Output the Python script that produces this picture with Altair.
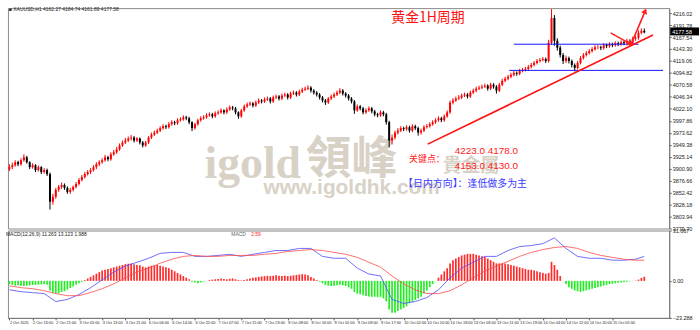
import json
import altair as alt
import pandas as pd

# ---------------- data ----------------
first_open = 3900
closes = [
    3904, 3908, 3914, 3910, 3918, 3924, 3914, 3904, 3908, 3898,
    3904, 3894, 3898, 3890, 3834, 3844, 3858, 3864, 3868, 3862,
    3854, 3858, 3864, 3870, 3878, 3884, 3890, 3894, 3898, 3904,
    3910, 3914, 3918, 3924, 3920, 3930, 3934, 3940, 3948, 3954,
    3958, 3962, 3964, 3958, 3962, 3954, 3948, 3954, 3964, 3970,
    3974, 3978, 3983, 3987, 3985, 3991, 3995, 3993, 3999, 4001,
    4005, 4003, 3995, 3983, 3991, 3999, 4003, 4005, 4009, 4011,
    4007, 4013, 4015, 4019, 4015, 4021, 4025, 4023, 4015, 4007,
    4019, 4027, 4031, 4033, 4029, 4035, 4039, 4037, 4041, 4043,
    4037, 4045, 4047, 4043, 4049, 4051, 4045, 4053, 4055, 4051,
    4057, 4061, 4063, 4065, 4059, 4055, 4051, 4045, 4039, 4035,
    4043, 4047, 4051, 4055, 4059, 4053, 4049, 4043, 4037, 4019,
    4027, 4023, 4015, 4019, 4023, 4017, 4011, 4009, 4015, 4011,
    3995, 3958, 3964, 3974, 3978, 3983, 3981, 3985, 3978, 3987,
    3983, 3974, 3978, 3985, 3987, 3991, 3995, 3999, 4003, 3999,
    4007, 4015, 4035, 4039, 4043, 4045, 4049, 4051, 4047, 4055,
    4059, 4063, 4065, 4067, 4069, 4063, 4071, 4067, 4059, 4071,
    4079, 4083, 4087, 4091, 4095, 4093, 4099, 4101, 4103, 4107,
    4111, 4115, 4119, 4121, 4123, 4119, 4156, 4206, 4160, 4146,
    4131, 4119, 4125, 4119, 4111, 4105, 4115, 4125, 4131, 4135,
    4139, 4143, 4147, 4147, 4145, 4151, 4149, 4153, 4151, 4155,
    4153, 4157, 4155, 4160, 4155, 4164, 4166, 4176, 4180, 4177,
]
highs = [
    3910, 3913, 3918, 3917, 3922, 3930, 3927, 3916, 3912, 3910,
    3907, 3906, 3902, 3901, 3893, 3850, 3862, 3868, 3873, 3871,
    3865, 3862, 3867, 3874, 3882, 3888, 3894, 3898, 3902, 3908,
    3914, 3918, 3922, 3929, 3927, 3934, 3939, 3945, 3952, 3958,
    3963, 3966, 3969, 3967, 3965, 3964, 3957, 3957, 3967, 3974,
    3978, 3982, 3987, 3991, 3990, 3995, 3999, 3998, 4003, 4005,
    4009, 4008, 4006, 3997, 3994, 4002, 4007, 4009, 4013, 4015,
    4014, 4017, 4019, 4023, 4021, 4025, 4029, 4028, 4026, 4017,
    4022, 4031, 4035, 4037, 4036, 4039, 4043, 4042, 4045, 4047,
    4046, 4049, 4051, 4050, 4053, 4055, 4054, 4057, 4059, 4058,
    4061, 4065, 4067, 4070, 4068, 4062, 4058, 4054, 4048, 4042,
    4046, 4051, 4055, 4059, 4064, 4062, 4056, 4052, 4046, 4040,
    4031, 4030, 4026, 4023, 4027, 4026, 4020, 4014, 4019, 4018,
    4014, 3998, 3970, 3978, 3983, 3987, 3986, 3989, 3988, 3991,
    3990, 3986, 3982, 3989, 3991, 3995, 3999, 4003, 4007, 4006,
    4011, 4019, 4039, 4044, 4047, 4050, 4053, 4055, 4054, 4059,
    4063, 4067, 4069, 4071, 4073, 4072, 4075, 4074, 4070, 4075,
    4083, 4087, 4091, 4095, 4099, 4098, 4103, 4105, 4107, 4111,
    4115, 4119, 4123, 4125, 4127, 4126, 4162, 4224, 4212, 4165,
    4150, 4135, 4130, 4128, 4122, 4114, 4119, 4129, 4135, 4139,
    4143, 4147, 4151, 4151, 4150, 4155, 4154, 4157, 4156, 4159,
    4158, 4161, 4160, 4164, 4163, 4168, 4170, 4181, 4185, 4185,
]
lows = [
    3896, 3900, 3905, 3906, 3907, 3915, 3911, 3900, 3901, 3894,
    3895, 3890, 3891, 3886, 3818, 3828, 3840, 3854, 3860, 3858,
    3850, 3850, 3855, 3861, 3867, 3875, 3881, 3887, 3890, 3895,
    3900, 3906, 3911, 3915, 3916, 3917, 3927, 3931, 3937, 3945,
    3951, 3955, 3958, 3954, 3955, 3950, 3944, 3945, 3951, 3961,
    3967, 3971, 3975, 3980, 3981, 3982, 3988, 3989, 3990, 3996,
    3998, 3999, 3991, 3977, 3980, 3988, 3996, 4000, 4002, 4006,
    4003, 4004, 4010, 4012, 4011, 4012, 4018, 4019, 4011, 4002,
    4004, 4016, 4024, 4028, 4025, 4026, 4032, 4033, 4034, 4038,
    4033, 4034, 4042, 4039, 4040, 4046, 4041, 4042, 4050, 4047,
    4048, 4054, 4058, 4060, 4055, 4051, 4047, 4041, 4035, 4030,
    4032, 4040, 4044, 4048, 4052, 4049, 4045, 4039, 4033, 4012,
    4016, 4019, 4011, 4012, 4016, 4013, 4007, 4005, 4006, 4007,
    3990, 3944, 3950, 3960, 3970, 3975, 3977, 3978, 3974, 3975,
    3979, 3968, 3970, 3975, 3982, 3984, 3988, 3992, 3996, 3995,
    3996, 4004, 4012, 4031, 4036, 4040, 4042, 4046, 4043, 4044,
    4052, 4056, 4060, 4062, 4064, 4059, 4060, 4063, 4053, 4056,
    4068, 4076, 4080, 4084, 4088, 4089, 4090, 4096, 4098, 4100,
    4104, 4108, 4112, 4116, 4118, 4115, 4116, 4152, 4150, 4140,
    4126, 4113, 4115, 4114, 4106, 4098, 4102, 4112, 4122, 4128,
    4132, 4136, 4140, 4143, 4141, 4142, 4145, 4146, 4147, 4148,
    4149, 4150, 4151, 4152, 4151, 4152, 4160, 4162, 4173, 4175,
]
hist = [
    -2, -2.5, -3, -2.8, -3, -3.2, -3, -2.8, -2.6, -2.5,
    -2.4, -2.2, -2.0, -2.5, -6, -7.5, -8, -7.8, -7, -6.5,
    -5.5, -4.5, -3.5, -2.5, -1.5, -0.5, 0.5, 1.5, 2.5, 3.5,
    4.5, 5.5, 6.5, 7, 7.5, 8, 8.5, 9, 9.5, 10,
    10.5, 10.8, 11, 10.5, 10, 9.8, 9, 8.5, 9, 9.5,
    9.8, 10, 9.5, 9, 8.5, 8, 7, 6, 5, 4,
    3, 2, 1, -0.5, -1, -1.5, -1, -0.5, 0, 0.5,
    0.8, 1, 1.2, 1.5, 1.2, 1, 1.3, 1.5, 1, 0.5,
    0.3, 0.6, 1, 1.5, 2, 2.2, 2.5, 2.8, 3, 3.2,
    3, 3.2, 3.5, 3.2, 3, 3.3, 3, 3.2, 3.5, 3.8,
    4, 4.2, 4, 3.5, 2.5, 1.5, 0.5, -0.5, -1.5, -2.5,
    -3, -3.2, -3, -2.8, -2.5, -2.8, -3.2, -4, -5, -7,
    -8, -8.5, -9, -9.5, -9.8, -10, -10, -10.2, -10, -11,
    -13, -18, -20, -20, -19, -18, -17, -16, -14, -13,
    -12, -11, -10, -8, -6, -4, -2, 0, 2, 4,
    6, 8, 11, 13, 14, 15, 16, 16.5, 17, 17,
    17, 16.5, 16, 15.5, 15, 14, 13, 12, 11, 11,
    11, 11, 10.5, 10, 9.5, 9, 8.5, 8, 7.5, 7,
    7, 6.5, 6, 5.5, 5, 4.5, 5, 12, 10, 7,
    3, 0, -2, -4, -5, -6, -6.5, -7, -6.5, -6,
    -5.5, -5, -4.5, -4, -3.5, -3, -2.5, -2, -1.8, -1.5,
    -1.2, -1, -0.8, -0.5, -0.3, -0.2, 0.2, 0.8, 1.8, 2.6,
]
line_idx = [0, 4, 8, 12, 16, 20, 24, 28, 32, 36, 40, 44, 48, 52, 56, 60, 64, 68,
            72, 76, 80, 84, 88, 92, 96, 100, 104, 108, 112, 116, 120, 124, 128,
            132, 136, 140, 144, 148, 152, 156, 160, 164, 168, 172, 176, 180, 184,
            188, 192, 196, 200, 204, 208, 212, 216, 219]
dif = [-5.6, -6.8, -7.4, -8, -13, -11.7, -8.6, -4.3, 0.6, 5.6,
       9.3, 11.7, 14.2, 17.3, 17.9, 17.9, 15.4, 15.4, 16, 16.7,
       15.4, 16.7, 17.9, 19.1, 19.1, 20.4, 20.4, 15.4, 14.2, 14.2,
       8, 4.3, 3.1, -11.7, -14.2, -13, -10.5, -5.6, 1.9, 8,
       11.7, 15.4, 15.4, 19.1, 21.6, 22.2, 23.4, 27, 20.4, 15.4,
       14.2, 14.2, 13, 13, 13.6, 15.4]
dea = [-3.1, -4.3, -4.9, -6.2, -8, -9.3, -9.3, -7.4, -4.9, -1.9,
       1.9, 5.6, 8, 11.1, 13.6, 15.4, 16, 15.4, 15.4, 16,
       16, 16, 16.7, 17.3, 18.5, 19.1, 19.7, 19.1, 17.9, 16.7,
       14.8, 11.7, 8.6, 3.1, -1.9, -5.6, -8, -8, -6.2, -2.5,
       1.9, 6.2, 9.3, 12.3, 15.4, 17.9, 19.7, 21, 21.6, 20.4,
       17.9, 16, 14.8, 13.6, 13, 13]

price_ticks = [3779.70, 3803.94, 3828.18, 3852.42, 3876.66, 3900.90, 3925.14,
               3949.38, 3973.62, 3997.86, 4022.10, 4046.34, 4070.58, 4094.82,
               4119.06, 4143.30, 4167.54, 4191.78, 4216.02]
macd_ticks = [31.667, 0.0, -23.288]
time_tick_idx = [0, 8, 16, 24, 32, 40, 48, 56, 64, 72, 80, 88, 96, 104, 112,
                 120, 128, 136, 144, 152, 160, 168, 176, 184, 192, 200, 208]
time_labels = ["2 Oct 2025", "2 Oct 13:00", "2 Oct 21:00", "3 Oct 05:00",
               "3 Oct 13:00", "3 Oct 21:00", "6 Oct 06:00", "6 Oct 14:00",
               "6 Oct 22:00", "7 Oct 07:00", "7 Oct 15:00", "7 Oct 23:00",
               "8 Oct 08:00", "8 Oct 16:00", "9 Oct 01:00", "9 Oct 09:00",
               "9 Oct 17:00", "10 Oct 02:00", "10 Oct 10:00", "10 Oct 18:00",
               "13 Oct 03:00", "13 Oct 11:00", "13 Oct 19:00", "14 Oct 04:00",
               "14 Oct 12:00", "14 Oct 20:00", "15 Oct 05:00"]

level_prices = [4153, 4100]
level_x1 = [174, 172.4]
level_x2 = [217, 225.5]
trend = {"x1": 144.3, "y1": 3950.6, "x2": 222.0, "y2": 4171.8}
arrow_x1 = [207.4, 214.5]
arrow_y1 = [4175.9, 4153.7]
arrow_x2 = [214.2, 219.3]
arrow_y2 = [4153.7, 4220.1]
arrow_angle = [119, 23]

# ---------------- chart ----------------
W, H1, H2 = 666, 222, 88
TOP2 = 5 + H1 + 2
X_DOM = [-0.5, 227.6]
Y_DOM = [3779.7, 4226.1]
M_DOM = [-23.288, 31.667]
UP, DOWN = "#ff0000", "#000000"
AX = dict(labelFont="Liberation Sans", labelColor="#222",
          tickSize=2, tickColor="#555", domainColor="#777", labelPadding=1,
          grid=False, title=None, labelFlush=False, labelOverlap=False)

opens = [first_open] + closes[:-1]
df = pd.DataFrame({"i": list(range(len(closes))), "o": opens, "c": closes,
                   "h": highs, "l": lows})
xs = alt.Scale(domain=X_DOM, nice=False, zero=False)
ys = alt.Scale(domain=Y_DOM, nice=False, zero=False)
ms = alt.Scale(domain=M_DOM, nice=False, zero=False)
ccol = alt.condition("datum.c >= datum.o", alt.value(UP), alt.value(DOWN))

yaxis = alt.Axis(orient="right", values=price_ticks, format=".2f", labelFontSize=5.5, **AX)
xaxis = alt.Axis(values=time_tick_idx,
                 labelExpr=json.dumps(time_labels) + "[round(datum.value/8)]",
                 labelAlign="left", labelFontSize=3.9, **AX)
maxis = alt.Axis(orient="right", values=macd_ticks, labelFontSize=5.5,
                 labelExpr="datum.value == 0 ? '0.00' : format(datum.value, '.3f')", **AX)


def PX(f):
    return alt.X(f, scale=xs, axis=None)


def PY(f):
    return alt.Y(f, scale=ys, axis=yaxis)


base = alt.Chart(df)
wick = base.mark_rule(strokeWidth=1).encode(x=PX("i:Q"), y=PY("l:Q"), y2="h:Q", color=ccol)
body = base.mark_rule(strokeWidth=2).encode(x=PX("i:Q"), y=PY("o:Q"), y2="c:Q", color=ccol)

lv = alt.Chart(pd.DataFrame({"p": level_prices, "a": level_x1, "b": level_x2})).mark_rule(
    color="#1515ff", strokeWidth=1).encode(x=PX("a:Q"), x2="b:Q", y=PY("p:Q"))

tr = alt.Chart(pd.DataFrame([trend])).mark_rule(color="#ff1010", strokeWidth=1.6).encode(
    x=PX("x1:Q"), x2="x2:Q", y=PY("y1:Q"), y2="y2:Q")

adf = pd.DataFrame({"x1": arrow_x1, "y1": arrow_y1, "x2": arrow_x2, "y2": arrow_y2,
                    "ang": arrow_angle})
ash = alt.Chart(adf).mark_rule(color="#ff2020", strokeWidth=1.6).encode(
    x=PX("x1:Q"), x2="x2:Q", y=PY("y1:Q"), y2="y2:Q")
ahd = alt.Chart(adf).mark_point(shape="triangle-up", filled=True, color="#ff2020",
                                 size=40, opacity=1).encode(
    x=PX("x2:Q"), y=PY("y2:Q"), angle=alt.Angle("ang:Q", scale=None))


def txt(s, x, y, size, color, font="Noto Sans CJK SC", weight="normal", align="left",
        baseline="middle", opacity=1.0, oy=5):
    return alt.Chart(pd.DataFrame({"t": [s]})).mark_text(
        text=s, fontSize=size, color=color, font=font, fontWeight=weight, align=align,
        baseline=baseline, opacity=opacity).encode(x=alt.value(x - 5), y=alt.value(y - oy))


WM = "#cfc7b8"
wm = [
    txt("igold", 203, 176, 46, WM, font="Liberation Serif", weight="bold",
        baseline="alphabetic", opacity=0.8),
    txt("領峰", 305, 172, 46, WM, font="Noto Sans CJK TC", weight="bold",
        baseline="alphabetic", opacity=0.8),
    txt("貴金屬", 443, 170, 19, WM, font="Noto Sans CJK TC", weight="bold",
        baseline="alphabetic", opacity=0.8),
    txt("www.igoldhk.com", 440, 192, 21, WM, font="Liberation Sans", weight="bold",
        align="right", baseline="alphabetic", opacity=0.8),
]
notes = [
    txt("黄金1H周期", 428, 15, 14, "#ff1010", align="center"),
    txt("关键点：", 409, 157, 9, "#ff2020"),
    txt("4223.0 4178.0", 455, 149, 10, "#ff2020", font="Liberation Sans"),
    txt("4153.0 4130.0", 455, 164, 10, "#ff2020", font="Liberation Sans"),
    txt("【日内方向】：逢低做多为主", 403, 182, 10, "#3a3aff"),
    txt("■ XAUUSD,H1  4162.27 4184.74 4161.89 4177.58", 6, 6, 5, "#222",
        font="Liberation Sans"),
]
pbox = alt.Chart(pd.DataFrame({"a": [0]})).mark_rect(color="#000").encode(
    x=alt.value(W + 1), x2=alt.value(W + 30), y=alt.value(19.5), y2=alt.value(27.5))
ptxt = txt("4177.58", 674, 29, 5.5, "#fff", font="Liberation Sans")

main = alt.layer(*wm, wick, body, lv, tr, ash, ahd, *notes, pbox, ptxt).properties(
    width=W, height=H1)

# MACD panel
hdf = pd.DataFrame({"i": list(range(len(hist))), "v": hist})
hcol = alt.condition("datum.v >= 0", alt.value("#ff2a2a"), alt.value("#22ee22"))
MX = alt.X("i:Q", scale=xs, axis=xaxis)
hb = alt.Chart(hdf).mark_rule(strokeWidth=1.7).encode(
    x=MX, y=alt.Y("v:Q", scale=ms, axis=maxis), y2=alt.datum(0), color=hcol)
ldf = pd.DataFrame({"i": line_idx, "dif": dif, "dea": dea})
ldif = alt.Chart(ldf).mark_line(color="#4a4aff", strokeWidth=0.8).encode(
    x=MX, y=alt.Y("dif:Q", scale=ms, axis=maxis))
ldea = alt.Chart(ldf).mark_line(color="#ff4a4a", strokeWidth=0.8).encode(
    x=MX, y=alt.Y("dea:Q", scale=ms, axis=maxis))
mnotes = [
    txt("MACD(12,26,9) 11.263 13.123 1.988", 3, 233, 5, "#222", font="Liberation Sans",
        oy=TOP2),
    txt("MACD", 230, 233, 5, "#666", font="Liberation Sans", oy=TOP2),
    txt("2.59", 250, 233, 5, "#ff2020", font="Liberation Sans", oy=TOP2),
]
macd = alt.layer(hb, ldif, ldea, *mnotes).properties(width=W, height=H2)

chart = alt.vconcat(main, macd, spacing=2, bounds="flush").properties(
    padding={"left": 5, "top": 5, "right": 0, "bottom": 0}, background="white"
).configure_view(stroke="#8a8a8a", strokeWidth=1)

chart.save("out.html", embed_options={"renderer": "svg", "actions": False})
